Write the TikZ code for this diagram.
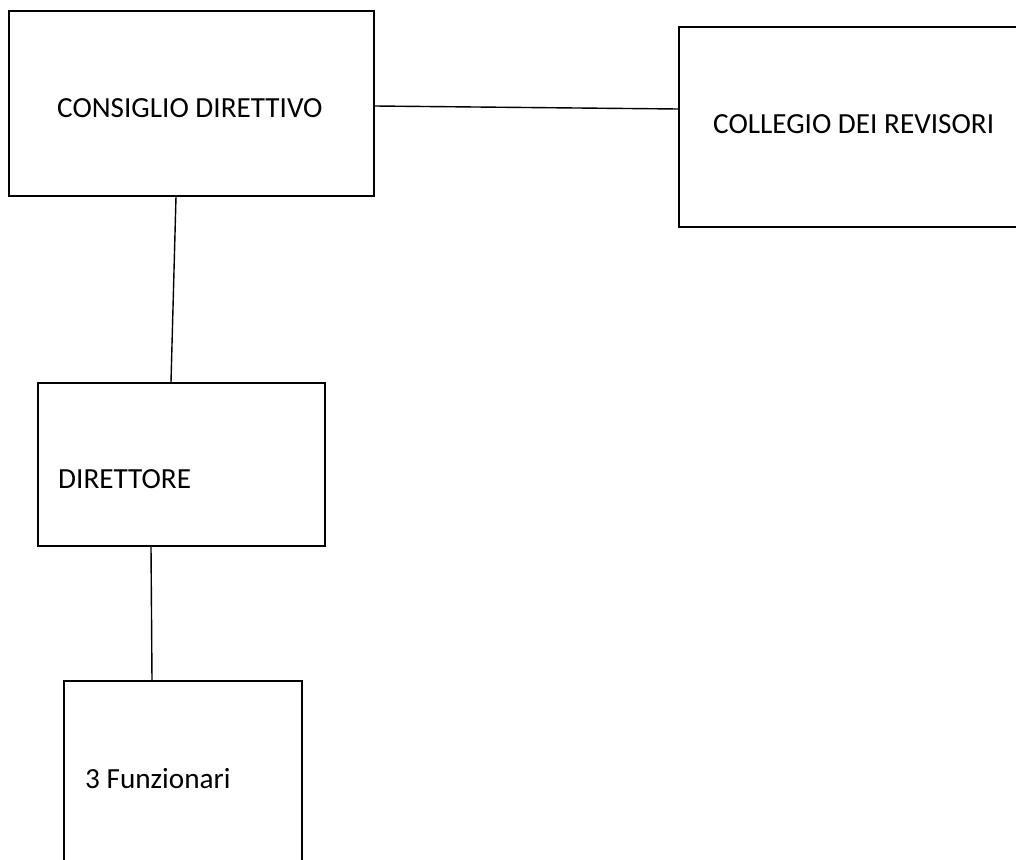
\documentclass[tikz,border=0pt]{standalone}
\usepackage{fontspec}
\setmainfont{Carlito}
\usetikzlibrary{calc}
\begin{document}
\begin{tikzpicture}[x=1pt,y=-1pt,
  box/.style={draw=black,line width=1.7pt,rectangle,inner sep=0pt,anchor=north west},
  lbl/.style={anchor=base west,inner sep=0pt,font=\fontsize{29.2}{34}\selectfont},
  conn/.style={draw=black,line width=1.4pt}]
\useasboundingbox (0,0) rectangle (1016,859);
\node[box,minimum width=365pt,minimum height=185pt] (cd) at (8,10) {};
\node[box,minimum width=350pt,minimum height=200pt] (cr) at (678,26) {};
\node[box,minimum width=287pt,minimum height=163pt] (dir) at (37,382) {};
\node[box,minimum width=238pt,minimum height=200pt] (fun) at (63,680) {};
\node[lbl] (tcd) at (57,117) {CONSIGLIO DIRETTIVO};
\node[lbl] (tcr) at (713,133) {COLLEGIO DEI REVISORI};
\node[lbl] (tdir) at (58,488) {DIRETTORE};
\node[lbl] (tfun) at (85,788) {3 Funzionari};
\draw[conn] ($(cd.north east)+(0,96)$) -- ($(cr.north west)+(0,83)$);
\draw[conn] ($(cd.south west)+(168,0)$) -- ($(dir.north west)+(134,0)$);
\draw[conn] ($(dir.south west)+(114,0)$) -- ($(fun.north west)+(89,0)$);
\end{tikzpicture}
\end{document}
